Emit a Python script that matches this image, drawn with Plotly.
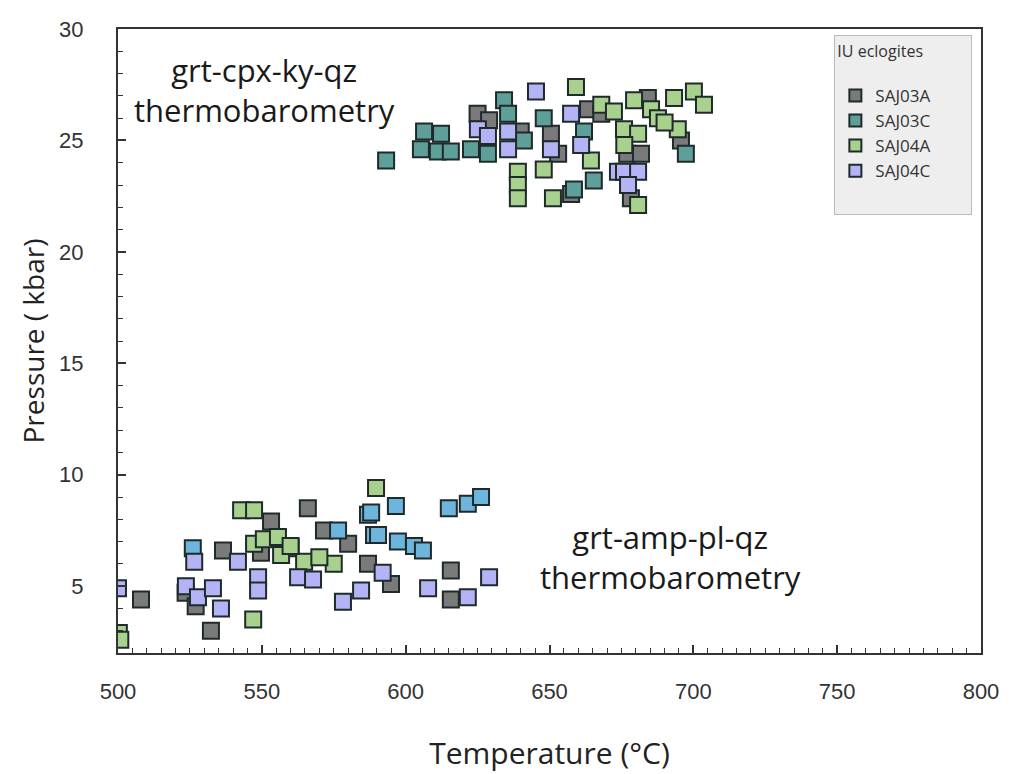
import plotly.graph_objects as go

# ---- data (temperature °C, pressure kbar) ----
saj03a_T = [625, 629, 650.5, 653, 663.4, 657.5, 677, 681.8, 678.3, 684.2, 695.7, 640, 668,
            508, 523.5, 527, 532.3, 536.5, 553.2, 566, 549.7, 571.6, 586.9, 594.9, 615.7, 615.7, 560, 580]
saj03a_P = [26.2, 25.9, 25.3, 24.4, 26.4, 22.6, 24.4, 24.4, 22.4, 26.9, 25.0, 25.4, 26.2,
            4.4, 4.7, 4.1, 3.0, 6.6, 7.9, 8.5, 6.5, 7.5, 6.0, 5.1, 5.7, 4.4, 6.7, 6.9]

saj03c_T = [593.2, 606.4, 605.3, 612.3, 611.2, 615.7, 622.7, 628.6, 634.2, 635.6, 641.1, 648, 662,
            658.5, 665.4, 697.4,
            526, 576.5, 586.9, 589, 596.6, 588, 590.4, 597.3, 602.9, 606, 615, 621.6, 626.2]
saj03c_P = [24.1, 25.4, 24.6, 25.3, 24.5, 24.5, 24.6, 24.4, 26.8, 26.2, 25.0, 26.0, 25.4,
            22.8, 23.2, 24.4,
            6.7, 7.5, 8.2, 7.3, 8.6, 8.3, 7.3, 7.0, 6.8, 6.6, 8.5, 8.7, 9.0]

saj04a_T = [659.2, 639, 639, 639, 648, 651.2, 664.4, 668, 672.4, 675.9, 679.4, 680.8, 685.3, 687.7,
            693.3, 700.2, 703.7, 694.6, 680.8, 676, 690,
            500.3, 500.8, 547, 542.8, 547.3, 547.3, 550.7, 555.6, 556.7, 564.7, 575, 589.7, 560, 570]
saj04a_P = [27.4, 23.6, 23.0, 22.4, 23.7, 22.4, 24.1, 26.6, 26.3, 25.5, 26.8, 25.3, 26.4, 26.0,
            26.9, 27.2, 26.6, 25.5, 22.1, 24.8, 25.8,
            2.9, 2.6, 3.5, 8.4, 8.4, 6.9, 7.1, 7.2, 6.4, 6.1, 6.0, 9.4, 6.8, 6.3]

saj04c_T = [645.3, 625.1, 628.6, 635.6, 635.6, 650.5, 657.5, 661, 673.8, 675.9, 680.8, 677.3,
            500, 526.5, 523.6, 527.8, 533, 535.8, 541.7, 548.7, 548.7, 562.6, 567.8, 584.5, 578.2,
            592, 607.8, 621.6, 629]
saj04c_P = [27.2, 25.5, 25.2, 25.4, 24.6, 24.6, 26.2, 24.8, 23.6, 23.6, 23.6, 23.0,
            4.9, 6.1, 5.0, 4.5, 4.9, 4.0, 6.1, 5.4, 4.8, 5.4, 5.3, 4.8, 4.3,
            5.6, 4.9, 4.5, 5.4]

series_names = ["SAJ03A", "SAJ03C", "SAJ04A", "SAJ04C"]
x_ticks = [500, 550, 600, 650, 700, 750, 800]
y_ticks = [5, 10, 15, 20, 25, 30]

colors = {"SAJ03A": "#7a7a7a", "SAJ03C": "#6db5dd", "SAJ04A": "#a9d18e", "SAJ04C": "#b3b3f6"}

fig = go.Figure()
data = [(saj03a_T, saj03a_P), (saj03c_T, saj03c_P), (saj04a_T, saj04a_P), (saj04c_T, saj04c_P)]
for name, (T, P) in zip(series_names, data):
    if name == "SAJ03C":
        mc = ["#5e9f99" if p > 15 else colors[name] for p in P]
    else:
        mc = colors[name]
    fig.add_trace(go.Scatter(
        x=T, y=P, mode="markers", name=name,
        marker=dict(symbol="square", size=16, color=mc,
                    line=dict(color="#1f2a2a", width=2)),
    ))
# blank legend row that only pads the bottom of the legend box
fig.add_trace(go.Scatter(x=[None], y=[None], mode="markers", name="\u00a0",
                         marker=dict(size=1, color="rgba(0,0,0,0)",
                                     line=dict(width=0, color="rgba(0,0,0,0)")),
                         hoverinfo="skip"))

axis_common = dict(
    showline=True, linecolor="#333333", linewidth=2, mirror=True,
    ticks="inside", ticklen=8, tickwidth=1.5, tickcolor="#333333",
    showgrid=False, zeroline=False, automargin=False,
    tickfont=dict(family="Liberation Sans, Arial", size=22, color="#333333"),
)

fig.update_xaxes(range=[500, 800], tickvals=x_ticks, ticklabelstandoff=18,
                 minor=dict(dtick=5, ticks="inside", ticklen=5, tickcolor="#333333", tickwidth=1),
                 title=dict(text="Temperature (°C)", standoff=40,
                            font=dict(family="Open Sans, Noto Sans", size=30, color="#222222")),
                 **axis_common)
fig.update_yaxes(range=[2, 30], tickvals=y_ticks, ticklabelstandoff=28,
                 minor=dict(dtick=1, ticks="inside", ticklen=5, tickcolor="#333333", tickwidth=1),
                 title=dict(text="Pressure ( kbar)", standoff=6,
                            font=dict(family="Open Sans, Noto Sans", size=28, color="#222222")),
                 **axis_common)

ann_font = dict(family="Open Sans, Noto Sans", size=31, color="#1a1a1a")
fig.add_annotation(x=551, y=27.25, xref="x", yref="y",
                   text="grt-cpx-ky-qz<br>thermobarometry", showarrow=False,
                   font=ann_font, align="center")
fig.add_annotation(x=692, y=6.3, xref="x", yref="y",
                   text="grt-amp-pl-qz<br>thermobarometry", showarrow=False,
                   font=ann_font, align="center")

fig.update_layout(
    width=1011, height=774,
    margin=dict(l=110, r=38, t=21, b=129),
    paper_bgcolor="white", plot_bgcolor="white",
    showlegend=True,
    legend=dict(
        x=0.99, y=0.99, xanchor="right", yanchor="top",
        bgcolor="#eeeeee", bordercolor="#bbbbbb", borderwidth=1,
        title=dict(text="IU eclogites" + "\u00a0" * 11 + "<br> ",
                   font=dict(family="Open Sans, Noto Sans", size=16, color="#333333")),
        font=dict(family="Open Sans, Noto Sans", size=17, color="#333333"),
        itemsizing="constant",
    ),
)

fig.write_html("out.html")
